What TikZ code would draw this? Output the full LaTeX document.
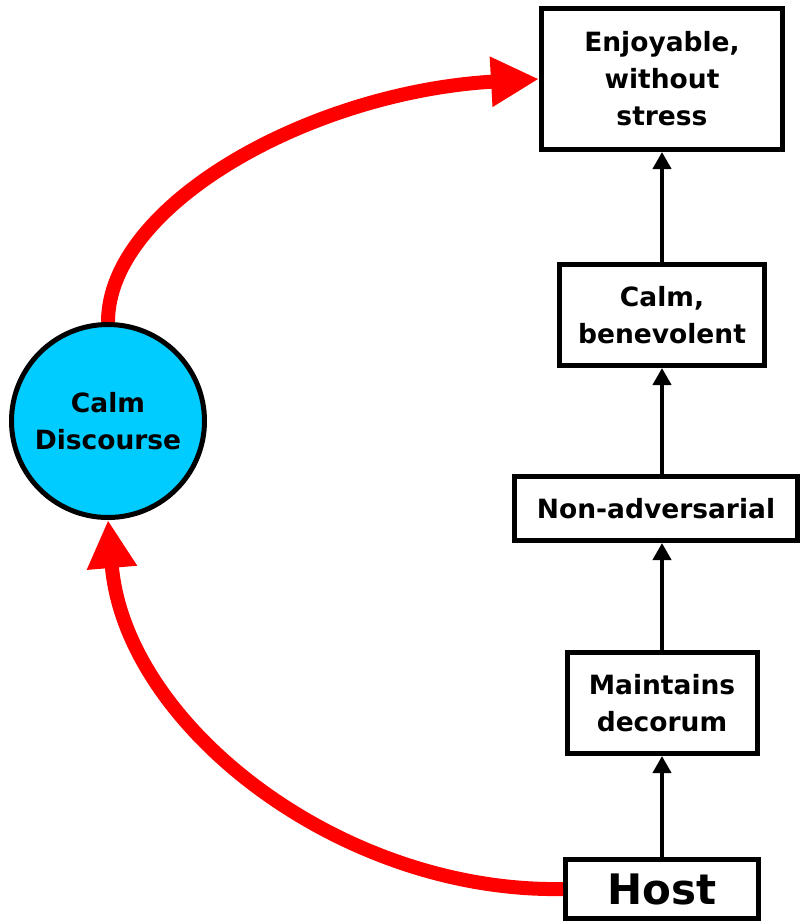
\documentclass[tikz,border=0pt]{standalone}
\usepackage{fontspec}
\setmainfont{DejaVu Sans}
\usetikzlibrary{arrows.meta}
\definecolor{discourse}{RGB}{0,204,255}
\definecolor{flowred}{RGB}{255,0,0}
\tikzset{
  labelfont/.style={font=\bfseries\fontsize{26.5}{37}\selectfont},
  stage/.style={draw=black, line width=5pt, fill=white, align=center,
    labelfont, inner sep=0pt},
  uparrow/.style={draw=black, line width=4pt,
    -{Triangle[length=17pt,width=18pt]}},
  loop/.style={draw=flowred, line width=14pt,
    -{Triangle[length=48pt,width=47pt]}}
}
\begin{document}
\begin{tikzpicture}[x=1pt,y=-1pt]
  \useasboundingbox (0,0) rectangle (802,923);

  % the ladder of outcomes
  \node[stage, minimum width=241pt, minimum height=141pt] (enj) at (662,79)
    {Enjoyable,\\without\\stress};
  \node[stage, minimum width=205pt, minimum height=101pt] (calm) at (662,315)
    {Calm,\\benevolent};
  \node[stage, minimum width=283pt, minimum height=64pt] (nonadv) at (656,508.5)
    {Non-adversarial};
  \node[stage, minimum width=190pt, minimum height=101pt] (maint) at (662,703)
    {Maintains\\decorum};
  \node[stage, minimum width=193pt, minimum height=59pt,
    font=\bfseries\fontsize{42}{44}\selectfont] (host) at (662,889) {Host};

  % the discourse circle
  \node[circle, draw=black, line width=5pt, fill=discourse, minimum size=193pt,
    align=center, inner sep=0pt, labelfont]
    (disc) at (108,421) {Calm\\Discourse};

  % upward chain
  \draw[uparrow] (host.north) -- (maint.south);
  \draw[uparrow] (maint.north) -- (nonadv.south -| maint.north);
  \draw[uparrow] (nonadv.north -| calm.south) -- (calm.south);
  \draw[uparrow] (calm.north) -- (enj.south);

  % red feedback loop through the discourse
  \draw[loop] (host.west) .. controls (340,893) and (125,725) .. (disc.south);
  \draw[loop] (disc.north) .. controls (108,205) and (310,92) .. (enj.west);
\end{tikzpicture}
\end{document}
